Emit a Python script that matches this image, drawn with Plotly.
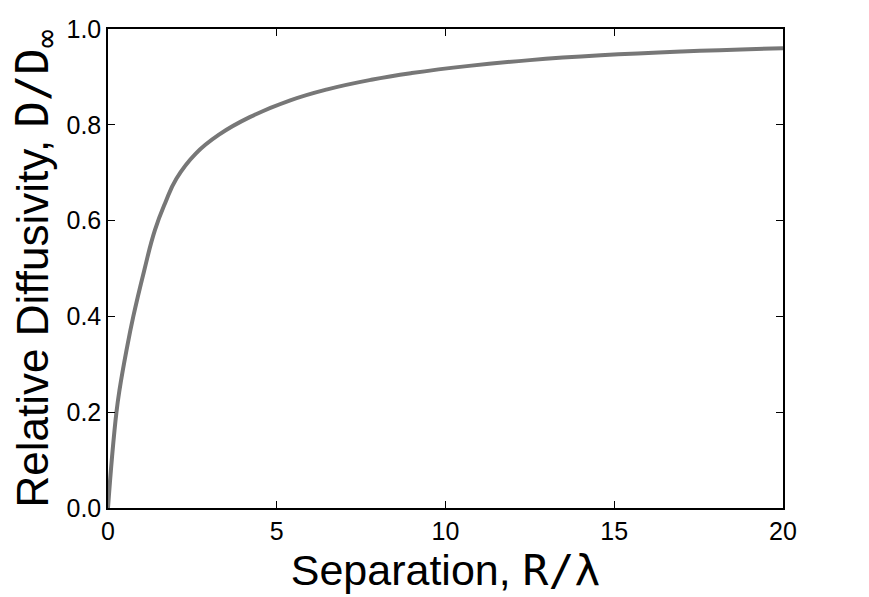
import plotly.graph_objects as go

separation = [0, 0.12, 0.25, 0.34, 0.55, 0.75, 1.07, 1.39, 1.7, 2.03, 2.6, 3.3, 4.2, 5.4, 6.5, 7.8, 9.0, 10.7, 12.5, 14.6, 17.0, 20.0]
diffusivity = [0, 0.107, 0.2, 0.246, 0.33, 0.4, 0.495, 0.58, 0.638, 0.688, 0.74, 0.78, 0.816, 0.851, 0.874, 0.894, 0.908, 0.923, 0.935, 0.945, 0.953, 0.960]

x_ticks = [0, 5, 10, 15, 20]
y_ticks = [0.0, 0.2, 0.4, 0.6, 0.8, 1.0]
y_labels = ["0.0", "0.2", "0.4", "0.6", "0.8", "1.0"]

mono = "font-family:'DejaVu Sans Mono'"

fig = go.Figure()
fig.add_trace(go.Scatter(
    x=separation, y=diffusivity, mode="lines",
    line=dict(color="#777777", width=4, shape="spline", smoothing=1.3),
    showlegend=False, hoverinfo="skip",
))

axis_common = dict(
    showgrid=False, zeroline=False, showline=True, linecolor="black", linewidth=1.5,
    mirror="ticks", ticks="inside", ticklen=7, tickwidth=1, tickcolor="black",
    tickfont=dict(family="Liberation Sans, Arial, sans-serif", size=25, color="black"),
)

fig.update_layout(
    width=869, height=597,
    margin=dict(l=108, r=86, t=29, b=89),
    paper_bgcolor="white", plot_bgcolor="white",
    font=dict(family="Liberation Sans, Arial, sans-serif", color="black"),
    xaxis=dict(
        range=[0, 20], tickvals=x_ticks, ticktext=[str(v) for v in x_ticks],
        title=dict(text=f"Separation, <span style=\"{mono}\">R/λ</span>",
                   font=dict(size=43), standoff=6),
        **axis_common,
    ),
    yaxis=dict(
        range=[0, 1], tickvals=y_ticks, ticktext=y_labels,
        title=dict(text=f"Relative Diffusivity, <span style=\"{mono}\">D/D<sub>∞</sub></span>",
                   font=dict(size=44), standoff=4),
        **axis_common,
    ),
)

fig.write_html("out.html")
